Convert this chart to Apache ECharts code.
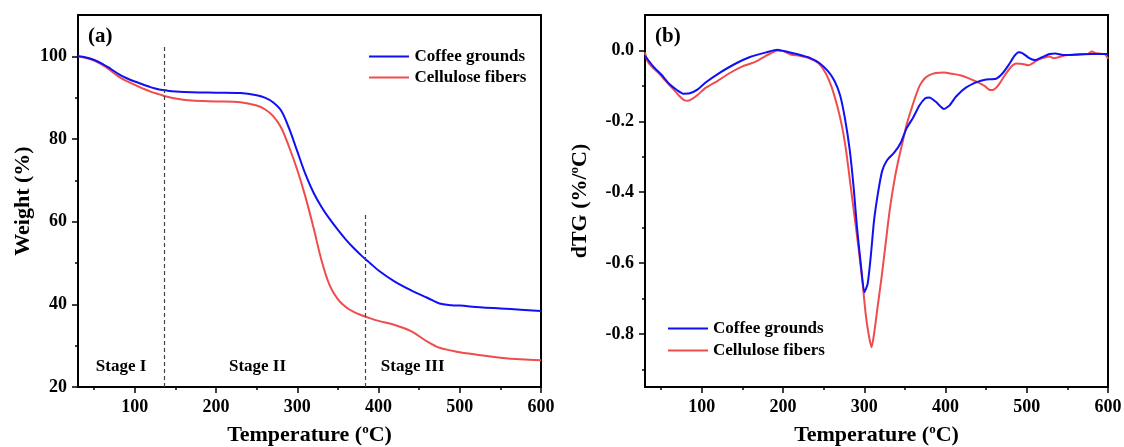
<!DOCTYPE html>
<html><head><meta charset="utf-8">
<script src="https://cdn.jsdelivr.net/npm/echarts@6/dist/echarts.min.js"></script>
<style>html,body{margin:0;padding:0;background:#fff}#c{width:1124px;height:447px}</style>
</head><body><div id="c"></div>
<script>
// ---------- DATA ----------
const seriesNames = ['Coffee grounds', 'Cellulose fibers'];

const tgTemp = [30,40,50,60,70,80,90,100,110,120,130,140,150,170,200,230,250,260,270,280,290,300,310,320,330,340,350,360,370,380,390,400,420,440,460,475,490,500,525,550,575,600];
const tgCoffee = [100,99.7,99.1,98.2,97.0,95.7,94.7,93.9,93.2,92.5,92.0,91.7,91.5,91.3,91.2,91.1,90.6,90.0,88.9,86.9,82.5,77.0,71.5,67.0,63.5,60.6,58.0,55.6,53.5,51.6,49.9,48.2,45.5,43.4,41.6,40.2,39.8,39.7,39.3,39.0,38.7,38.4];
const tgCellulose = [100,99.6,99.0,97.9,96.6,95.1,94.0,93.1,92.2,91.4,90.8,90.2,89.8,89.3,89.1,88.9,88.1,87.2,85.6,82.8,78.0,72.5,66.0,58.5,50.5,44.5,41.2,39.3,38.1,37.3,36.6,36.0,35.0,33.5,31.0,29.5,28.8,28.4,27.7,27.1,26.7,26.5];

const dtgTempCoffee = [30,40,50,60,70,77,85,95,105,120,140,160,180,193,205,220,233,245,255,263,270,276,282,287,291,296,300,304,308,312,317,322,328,337,345,352,360,368,375,380,388,398,405,413,425,440,450,462,470,478,485,490,495,502,510,518,528,535,545,560,580,600];
const dtgCoffee = [-0.015,-0.045,-0.068,-0.095,-0.113,-0.122,-0.121,-0.11,-0.09,-0.066,-0.039,-0.018,-0.005,0.002,-0.004,-0.012,-0.021,-0.036,-0.058,-0.085,-0.125,-0.19,-0.28,-0.39,-0.5,-0.61,-0.682,-0.66,-0.58,-0.48,-0.4,-0.34,-0.31,-0.288,-0.26,-0.22,-0.19,-0.155,-0.135,-0.133,-0.145,-0.165,-0.155,-0.13,-0.105,-0.088,-0.082,-0.08,-0.065,-0.04,-0.015,-0.005,-0.008,-0.02,-0.027,-0.02,-0.01,-0.009,-0.013,-0.012,-0.01,-0.01];

const dtgTempCellulose = [30,33,38,46,55,65,72,78,83,88,95,105,120,135,150,165,175,185,193,200,210,220,232,243,252,260,267,273,278,283,288,293,298,302,306,309,312,316,321,326,331,336,341,347,352,358,363,368,374,380,388,398,408,418,428,438,448,455,460,466,473,480,487,495,502,508,515,522,528,533,538,545,555,565,575,580,585,592,597,600];
const dtgCellulose = [-0.005,-0.03,-0.045,-0.062,-0.085,-0.11,-0.128,-0.14,-0.142,-0.137,-0.125,-0.105,-0.085,-0.063,-0.045,-0.033,-0.02,-0.008,0.0,-0.002,-0.012,-0.015,-0.022,-0.035,-0.062,-0.105,-0.16,-0.22,-0.29,-0.38,-0.47,-0.56,-0.66,-0.75,-0.81,-0.838,-0.8,-0.73,-0.645,-0.55,-0.455,-0.38,-0.32,-0.26,-0.21,-0.165,-0.13,-0.1,-0.08,-0.07,-0.064,-0.062,-0.066,-0.07,-0.078,-0.088,-0.1,-0.112,-0.11,-0.095,-0.07,-0.048,-0.037,-0.038,-0.042,-0.035,-0.025,-0.02,-0.017,-0.022,-0.02,-0.015,-0.012,-0.01,-0.01,-0.003,-0.008,-0.009,-0.012,-0.024];

const xTickLabels = [100,200,300,400,500,600];
const xMinorTicks = [50,150,250,350,450,550];
const tgTickLabels = [20,40,60,80,100];
const tgMinorTicks = [30,50,70,90];
const dtgTickLabels = [-0.8,-0.6,-0.4,-0.2,0.0];
const dtgMinorTicks = [-0.9,-0.7,-0.5,-0.3,-0.1];

const stageBoundaries = [136, 384];
const stageBoundaryTops = [103, 62];
const stageNames = ['Stage I', 'Stage II', 'Stage III'];
const stageLabelX = [83, 251, 442];
const stageLabelY = 25;

// ---------- STYLE ----------
const FONT = '"Liberation Serif","Times New Roman",serif';
const BLUE = '#1010f5';
const RED = '#f04c4c';

function pairs(xs, ys) { return xs.map((x, i) => [x, ys[i]]); }

const supRich = { s: { fontFamily: FONT, fontWeight: 'bold', fontSize: 13, color: '#000', padding: [0, 0, 12, 0] } };

function xMain(g) {
  return {
    type: 'value', gridIndex: g, min: 30, max: 600, position: 'bottom',
    name: 'Temperature ({s|o}C)', nameLocation: 'middle', nameGap: 36,
    nameTextStyle: { fontFamily: FONT, fontWeight: 'bold', fontSize: 22, color: '#000', rich: supRich },
    axisLine: { show: true, onZero: false, lineStyle: { color: '#000', width: 2 } },
    axisTick: { show: true, length: 6, customValues: xTickLabels, lineStyle: { color: '#000', width: 1.5 } },
    axisLabel: { show: true, customValues: xTickLabels, margin: 11, fontFamily: FONT, fontWeight: 'bold', fontSize: 18, color: '#000' },
    splitLine: { show: false }
  };
}
function xMinor(g) {
  return {
    type: 'value', gridIndex: g, min: 30, max: 600, position: 'bottom',
    axisLine: { show: false, onZero: false }, axisLabel: { show: false }, splitLine: { show: false },
    axisTick: { show: true, length: 3, customValues: xMinorTicks, lineStyle: { color: '#000', width: 1.5 } }
  };
}
function yMain(g, min, max, labels, name, gap, fmt) {
  return {
    type: 'value', gridIndex: g, min: min, max: max, position: 'left',
    name: name, nameLocation: 'middle', nameGap: gap, nameRotate: 90,
    nameTextStyle: { fontFamily: FONT, fontWeight: 'bold', fontSize: 22, color: '#000', rich: supRich },
    axisLine: { show: true, onZero: false, lineStyle: { color: '#000', width: 2 } },
    axisTick: { show: true, length: 6, customValues: labels, lineStyle: { color: '#000', width: 1.5 } },
    axisLabel: { show: true, customValues: labels, margin: 11, fontFamily: FONT, fontWeight: 'bold', fontSize: 18, color: '#000', formatter: fmt },
    splitLine: { show: false }
  };
}
function yMinor(g, min, max, ticks) {
  return {
    type: 'value', gridIndex: g, min: min, max: max, position: 'left',
    axisLine: { show: false, onZero: false }, axisLabel: { show: false }, splitLine: { show: false },
    axisTick: { show: true, length: 3, customValues: ticks, lineStyle: { color: '#000', width: 1.5 } }
  };
}

const legendText = { fontFamily: FONT, fontWeight: 'bold', fontSize: 17, color: '#000' };
const lineIcon = 'path://M0,0 L40,0 L40,2 L0,2 Z';
function legendData() {
  return [
    { name: seriesNames[0], icon: lineIcon, itemStyle: { color: BLUE } },
    { name: seriesNames[1], icon: lineIcon, itemStyle: { color: RED } }
  ];
}

const chart = echarts.init(document.getElementById('c'), null, { renderer: 'canvas' });
chart.setOption({
  animation: false,
  backgroundColor: '#fff',
  grid: [
    { left: 78, top: 15, width: 463, height: 372, show: true, borderColor: '#000', borderWidth: 2, backgroundColor: 'transparent', outerBoundsMode: 'none' },
    { left: 645, top: 15, width: 463, height: 372, show: true, borderColor: '#000', borderWidth: 2, backgroundColor: 'transparent', outerBoundsMode: 'none' }
  ],
  xAxis: [xMain(0), xMinor(0), xMain(1), xMinor(1)],
  yAxis: [
    yMain(0, 20, 110, tgTickLabels, 'Weight (%)', 44, v => String(v)),
    yMinor(0, 20, 110, tgMinorTicks),
    yMain(1, -0.95, 0.1, dtgTickLabels, 'dTG (%/{s|o}C)', 52, v => Number(v).toFixed(1)),
    yMinor(1, -0.95, 0.1, dtgMinorTicks)
  ],
  legend: [
    { data: legendData(), orient: 'vertical', left: 364, top: 43, itemWidth: 41, itemHeight: 2, itemGap: 4, selectedMode: false, textStyle: legendText },
    { data: legendData(), orient: 'vertical', left: 663, top: 315, itemWidth: 40, itemHeight: 2, itemGap: 5, selectedMode: false, textStyle: legendText }
  ],
  series: [
    { name: seriesNames[0], type: 'line', xAxisIndex: 0, yAxisIndex: 0, data: pairs(tgTemp, tgCoffee),
      symbol: 'none', smooth: 0.35, lineStyle: { color: BLUE, width: 2 }, itemStyle: { color: BLUE }, z: 3,
      markLine: { silent: true, symbol: ['none', 'none'], label: { show: false },
        lineStyle: { type: [4, 3], color: '#444', width: 1.2 },
        data: stageBoundaries.map((x, i) => [{ coord: [x, 20] }, { coord: [x, stageBoundaryTops[i]] }]) } },
    { name: seriesNames[1], type: 'line', xAxisIndex: 0, yAxisIndex: 0, data: pairs(tgTemp, tgCellulose),
      symbol: 'none', smooth: 0.35, lineStyle: { color: RED, width: 2 }, itemStyle: { color: RED }, z: 2 },
    { name: seriesNames[1], type: 'line', xAxisIndex: 2, yAxisIndex: 2, data: pairs(dtgTempCellulose, dtgCellulose),
      symbol: 'none', smooth: 0.2, lineStyle: { color: RED, width: 2 }, itemStyle: { color: RED }, z: 2 },
    { name: seriesNames[0], type: 'line', xAxisIndex: 2, yAxisIndex: 2, data: pairs(dtgTempCoffee, dtgCoffee),
      symbol: 'none', smooth: 0.2, lineStyle: { color: BLUE, width: 2 }, itemStyle: { color: BLUE }, z: 3 }
  ]
});

const stageGraphics = stageNames.map((t, i) => {
  const p = chart.convertToPixel({ gridIndex: 0 }, [stageLabelX[i], stageLabelY]);
  return { type: 'text', x: p[0], y: p[1], style: { text: t, fontFamily: FONT, fontWeight: 'bold', fontSize: 17, fill: '#000', align: 'center', verticalAlign: 'middle' } };
});
chart.setOption({
  graphic: [
    { type: 'text', left: 88, top: 26, style: { text: '(a)', fontFamily: FONT, fontWeight: 'bold', fontSize: 21, fill: '#000' } },
    { type: 'text', left: 655, top: 26, style: { text: '(b)', fontFamily: FONT, fontWeight: 'bold', fontSize: 21, fill: '#000' } }
  ].concat(stageGraphics)
});
</script>
</body></html>
